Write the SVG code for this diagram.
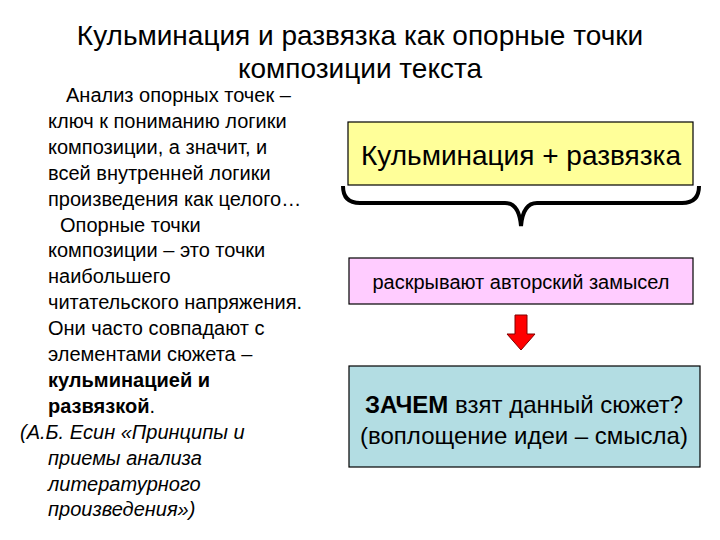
<svg xmlns="http://www.w3.org/2000/svg" width="720" height="540" viewBox="0 0 720 540">
<style>
text{font-family:"Liberation Sans",Arial,sans-serif;fill:#000}
.t{font-size:28px}
.l{font-size:20px}
.box{stroke:#000;stroke-width:1.2}
</style>
<rect width="720" height="540" fill="#fff"/>
<text class="t" x="360" y="45" text-anchor="middle">Кульминация и развязка как опорные точки</text>
<text class="t" x="360" y="78" text-anchor="middle">композиции текста</text>
<g id="left" class="l">
<text x="66" y="102">Анализ опорных точек –</text>
<text x="48" y="128">ключ к пониманию логики</text>
<text x="48" y="154">композиции, а значит, и</text>
<text x="48" y="180">всей внутренней логики</text>
<text x="48" y="206">произведения как целого…</text>
<text x="60" y="232">Опорные точки</text>
<text x="48" y="257">композиции – это точки</text>
<text x="48" y="283">наибольшего</text>
<text x="48" y="309">читательского напряжения.</text>
<text x="48" y="335">Они часто совпадают с</text>
<text x="48" y="361">элементами сюжета –</text>
<text x="48" y="387" font-weight="bold">кульминацией и</text>
<text x="48" y="413"><tspan font-weight="bold">развязкой</tspan>.</text>
<text x="20" y="439" font-style="italic">(А.Б. Есин «Принципы и</text>
<text x="48" y="465" font-style="italic">приемы анализа</text>
<text x="48" y="491" font-style="italic">литературного</text>
<text x="48" y="516" font-style="italic">произведения»)</text>
</g>
<g id="n1"><rect class="box" x="348" y="122" width="345" height="63" fill="#ffff99"/>
<text x="521" y="165" text-anchor="middle" font-size="28">Кульминация + развязка</text></g>
<g id="connectors">
<path d="M343,186 Q343,203 360,203 L505,203 Q519,203 521,226 Q523,203 537,203 L682,203 Q699,203 699,186" fill="none" stroke="#000" stroke-width="4"/>
<path d="M515,315 L527,315 L527,334 L535,334 L521,350 L507,334 L515,334 Z" fill="#ff0000" stroke="#800000" stroke-width="1"/>
</g>
<g id="n2"><rect class="box" x="349" y="258" width="344" height="46" fill="#ffccff"/>
<text x="521" y="289" text-anchor="middle" font-size="20">раскрывают авторский замысел</text></g>
<g id="n3"><rect class="box" x="349" y="366" width="351" height="101" fill="#b3dde3"/>
<text x="524" y="413" text-anchor="middle" font-size="24"><tspan font-weight="bold">ЗАЧЕМ</tspan> взят данный сюжет?</text>
<text x="524" y="444" text-anchor="middle" font-size="24">(воплощение идеи – смысла)</text></g>
</svg>
